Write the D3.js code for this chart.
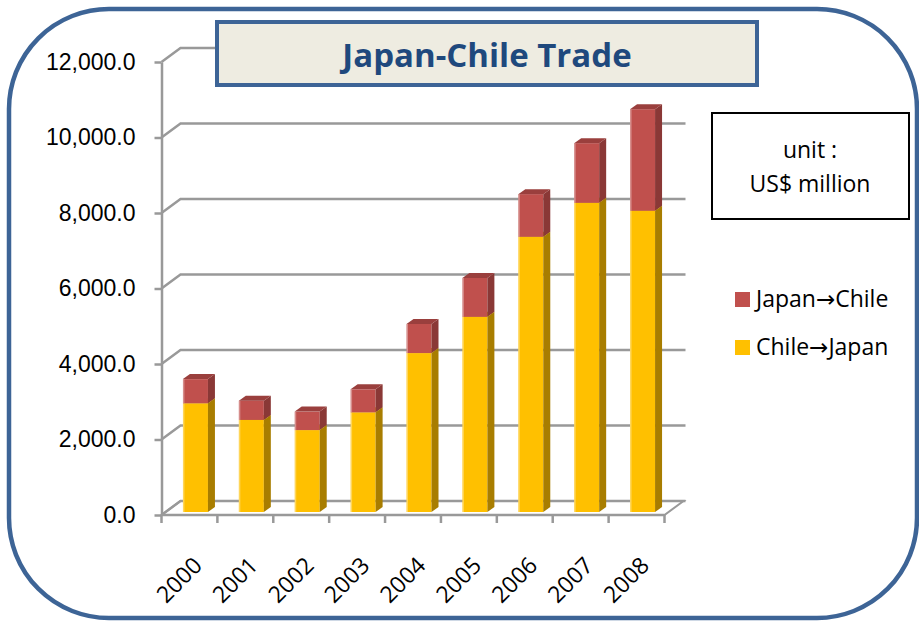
<!DOCTYPE html>
<html>
<head>
<meta charset="utf-8">
<script src="https://cdn.jsdelivr.net/npm/d3@7"></script>
<style>
  body { margin: 0; background: #fff; }
  svg { display: block; font-family: "Open Sans", "DejaVu Sans", sans-serif; }
</style>
</head>
<body>
<svg width="919" height="623"></svg>
<script>
var years = ["2000", "2001", "2002", "2003", "2004", "2005", "2006", "2007", "2008"];
// Chile -> Japan (bottom, yellow) and Japan -> Chile (top, red), US$ million
var chileToJapan = [2880, 2440, 2170, 2640, 4210, 5170, 7290, 8190, 7980];
var japanToChile = [640, 510, 490, 610, 770, 1030, 1130, 1580, 2690];
var yTicks = [0, 2000, 4000, 6000, 8000, 10000, 12000];
var seriesNames = ["Japan\u2192Chile", "Chile\u2192Japan"];

var svg = d3.select("svg");

var frontCol = { yellow: "#FFC000", red: "#C0504D" },
    sideCol = { yellow: "#A87D00", red: "#8A3836" },
    topCol = { yellow: "#D9A300", red: "#9A3F3D" };

var x = d3.scaleBand().domain(years).range([161.5, 664.5]);
var y = d3.scaleLinear().domain([0, 12000]).range([515, 62]);

// oblique depth of the walls and of the bars
var wall = { dx: 19, dy: -14 },
    bar = { off: 6, dy: -3, w: 25, dx: 7, ddy: -5 };

// outer rounded frame
svg.append("rect")
    .attr("x", 9).attr("y", 9)
    .attr("width", 908).attr("height", 609)
    .attr("rx", 100).attr("ry", 100)
    .attr("fill", "#fff")
    .attr("stroke", "#3D6496")
    .attr("stroke-width", 4.5);

var grid = svg.append("g").attr("class", "grid")
    .attr("stroke", "#999").attr("stroke-width", 2.5).attr("fill", "none");

var x0 = x.range()[0], x1 = x.range()[1];

// floor
grid.append("path")
    .attr("fill", "#fff")
    .attr("stroke-width", 2)
    .attr("d", "M" + x0 + "," + y(0) +
        "L" + (x0 + wall.dx) + "," + (y(0) + wall.dy) +
        "L" + (x1 + wall.dx) + "," + (y(0) + wall.dy) +
        "L" + x1 + "," + y(0) + "Z");

// back wall gridlines + side wall diagonals
grid.selectAll(".gl")
    .data(yTicks)
    .enter().append("path")
    .attr("class", "gl")
    .attr("d", function (t) {
        return "M" + x0 + "," + y(t) +
            "L" + (x0 + wall.dx) + "," + (y(t) + wall.dy) +
            "L" + (x1 + wall.dx + 2) + "," + (y(t) + wall.dy);
    });

// y axis
var yAxis = d3.axisLeft(y)
    .tickValues(yTicks)
    .tickFormat(d3.format(",.1f"))
    .tickSize(7)
    .tickSizeOuter(0)
    .tickPadding(19);

var ya = svg.append("g")
    .attr("transform", "translate(" + x0 + ",0)")
    .call(yAxis);
ya.select(".domain").attr("stroke", "#999").attr("stroke-width", 2.5);
ya.selectAll(".tick line").attr("stroke", "#999").attr("stroke-width", 2.5);
ya.selectAll(".tick text")
    .attr("fill", "#000")
    .style("font-size", "23px");

// x axis line and ticks between categories
svg.append("line")
    .attr("x1", x0).attr("x2", x1)
    .attr("y1", y(0)).attr("y2", y(0))
    .attr("stroke", "#999").attr("stroke-width", 2.5);

svg.selectAll(".xtick")
    .data(years.map(function (d) { return x(d); }).concat([x1]))
    .enter().append("line")
    .attr("class", "xtick")
    .attr("x1", function (d) { return d; })
    .attr("x2", function (d) { return d; })
    .attr("y1", y(0)).attr("y2", y(0) + 8)
    .attr("stroke", "#999").attr("stroke-width", 2.5);

// stacked 3D bars
var stackData = years.map(function (yr, i) {
    return [
        { year: yr, key: "yellow", v0: 0, v1: chileToJapan[i] },
        { year: yr, key: "red", v0: chileToJapan[i], v1: chileToJapan[i] + japanToChile[i] }
    ];
});

var bars = svg.append("g").attr("class", "bars");

stackData.forEach(function (segs) {
    segs.forEach(function (s) {
        var bx = x(s.year) + (x.bandwidth() - bar.w) / 2 + bar.off,
            yt = y(s.v1) + bar.dy,
            yb = y(s.v0) + bar.dy,
            g = bars.append("g");

        g.append("rect")
            .attr("x", bx).attr("y", yt)
            .attr("width", bar.w).attr("height", yb - yt)
            .attr("fill", frontCol[s.key]);

        // light edge on the left of the front face
        g.append("rect")
            .attr("x", bx).attr("y", yt)
            .attr("width", 1.5).attr("height", yb - yt)
            .attr("fill", "#fff").attr("opacity", 0.35);

        g.append("path")
            .attr("fill", sideCol[s.key])
            .attr("d", "M" + (bx + bar.w) + "," + yt +
                "L" + (bx + bar.w + bar.dx) + "," + (yt + bar.ddy) +
                "L" + (bx + bar.w + bar.dx) + "," + (yb + bar.ddy) +
                "L" + (bx + bar.w) + "," + yb + "Z");

        g.append("path")
            .attr("fill", topCol[s.key])
            .attr("d", "M" + bx + "," + yt +
                "L" + (bx + bar.dx) + "," + (yt + bar.ddy) +
                "L" + (bx + bar.w + bar.dx) + "," + (yt + bar.ddy) +
                "L" + (bx + bar.w) + "," + yt + "Z");
    });
});

// year labels, rotated
svg.selectAll(".xlabel")
    .data(years)
    .enter().append("text")
    .attr("class", "xlabel")
    .attr("text-anchor", "end")
    .attr("transform", function (d) {
        return "translate(" + (x(d) + x.bandwidth() / 2 + 14) + "," + 567 + ") rotate(-45)";
    })
    .style("font-size", "23px")
    .text(function (d) { return d; });

// title
svg.append("rect")
    .attr("x", 217).attr("y", 22)
    .attr("width", 540).attr("height", 63)
    .attr("fill", "#EEECE1")
    .attr("stroke", "#3D6496")
    .attr("stroke-width", 4);

svg.append("text")
    .attr("x", 487).attr("y", 67)
    .attr("text-anchor", "middle")
    .attr("fill", "#1F497D")
    .style("font-size", "33px")
    .style("font-weight", "bold")
    .text("Japan-Chile Trade");

// unit box
svg.append("rect")
    .attr("x", 712).attr("y", 113)
    .attr("width", 197).attr("height", 106)
    .attr("fill", "#fff")
    .attr("stroke", "#000")
    .attr("stroke-width", 2);

svg.append("text")
    .attr("x", 810).attr("y", 158)
    .attr("text-anchor", "middle")
    .style("font-size", "23px")
    .text("unit :");

svg.append("text")
    .attr("x", 810).attr("y", 192)
    .attr("text-anchor", "middle")
    .style("font-size", "23px")
    .text("US$ million");

// legend
var legend = svg.append("g")
    .attr("transform", "translate(735, 292)");

var items = legend.selectAll("g")
    .data(seriesNames)
    .enter().append("g")
    .attr("transform", function (d, i) { return "translate(0," + (i * 48) + ")"; });

items.append("rect")
    .attr("width", 15).attr("height", 15)
    .attr("fill", function (d, i) { return i === 0 ? frontCol.red : frontCol.yellow; });

items.append("text")
    .attr("x", 21).attr("y", 15)
    .style("font-size", "23px")
    .text(function (d) { return d; });
</script>
</body>
</html>
